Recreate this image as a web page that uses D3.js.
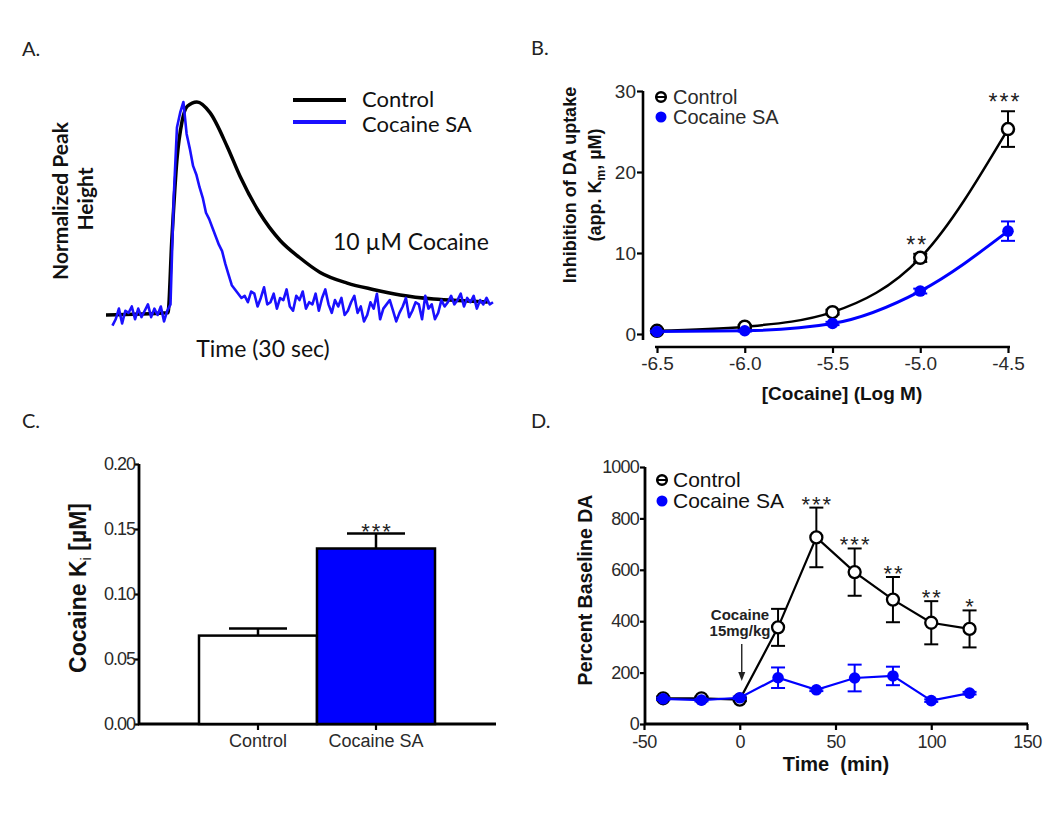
<!DOCTYPE html>
<html><head><meta charset="utf-8">
<script src="https://cdn.jsdelivr.net/npm/d3@7"></script>
<style>
html,body{margin:0;padding:0;background:#fff;}
svg{display:block;}
</style></head><body>
<svg id="chart" width="1050" height="814"></svg>
<script>
// ---------------- Panel A: normalized traces (10 µM cocaine) ----------------
const traceTimeControl = [0, 4.8, 5.1, 5.5, 5.9, 6.3, 7.05, 8.06, 9.4, 10.4, 11.9, 13.5, 15.0, 16.6, 18.7, 20.7, 22.8, 25.4, 28.0, 29.6];
const traceControl     = [0, 0.01, 0.35, 0.73, 0.91, 0.98, 1.0, 0.95, 0.79, 0.65, 0.48, 0.35, 0.27, 0.20, 0.15, 0.12, 0.094, 0.075, 0.066, 0.061];
const traceSAStart = 0.5;   // s, first sample
const traceSAStep  = 0.25;  // s, sampling interval
const traceSA = [
  -0.05, -0.02, 0.03, -0.04, 0.02, 0.01, 0.04, -0.02, 0.03, -0.01, 0.02, 0.05, -0.01, 0.03, 0.0, 0.04, -0.03, 0.02,
  0.05, 0.55, 0.88, 0.95, 1.0, 0.85, 0.78, 0.7, 0.66, 0.6, 0.55, 0.48, 0.45, 0.41, 0.37, 0.33, 0.3, 0.24, 0.19, 0.14, 0.12, 0.1, 0.08,
  0.09, 0.06, 0.11, 0.1, 0.04, 0.08, 0.13, 0.05, 0.06, 0.1, 0.03, 0.08, 0.07, 0.12, 0.04, 0.02, 0.09, 0.07, 0.11, 0.03, 0.06, 0.05, 0.1, 0.02, 0.08, 0.12, 0.05, 0.01, 0.07,
  0.04, 0.08, 0.0, 0.02, 0.06, 0.09, 0.01, 0.04, -0.03, 0.0, 0.06, 0.03, 0.1, -0.02, 0.03, 0.05, 0.07, 0.02, -0.03, 0.01, 0.04, 0.08, -0.01, 0.02, 0.06, 0.05, -0.02, 0.09, 0.03, 0.05, -0.02, 0.01, 0.07, 0.04,
  0.06, 0.09, 0.05, 0.07, 0.1, 0.04, 0.08, 0.06, 0.09, 0.03, 0.07, 0.05, 0.08, 0.05, 0.06
];
const traceSeries = ["Control", "Cocaine SA"];

// ---------------- Panel B: app. Km vs log[cocaine] ----------------
const logConc      = [-6.5, -6.0, -5.5, -5.0, -4.5];
const kmControl    = [0.4, 0.9, 2.7, 9.4, 25.3];
const kmControlErr = [0.2, 0.2, 0.3, 0.5, 2.2];
const kmSA         = [0.3, 0.4, 1.3, 5.3, 12.7];
const kmSAErr      = [0.1, 0.1, 0.2, 0.3, 1.2];
const kmSig        = ["", "", "", "**", "***"];
const kmYTicks     = [0, 10, 20, 30];

// ---------------- Panel C: cocaine Ki ----------------
const kiGroups = ["Control", "Cocaine SA"];
const kiMean   = [0.068, 0.135];
const kiErr    = [0.0055, 0.0115];
const kiSig    = ["", "***"];
const kiYTicks = [0.00, 0.05, 0.10, 0.15, 0.20];

// ---------------- Panel D: microdialysis ----------------
const timeMin      = [-40, -20, 0, 20, 40, 60, 80, 100, 120];
const daControl    = [100, 100, 95, 376, 726, 591, 484, 394, 370];
const daControlErr = [6, 6, 6, 72, 116, 92, 88, 84, 72];
const daSA         = [98, 93, 102, 180, 133, 179, 187, 91, 120];
const daSAErr      = [5, 5, 5, 40, 5, 52, 36, 5, 5];
const daSig        = ["", "", "", "", "***", "***", "**", "**", "*"];
const daXTicks     = [-50, 0, 50, 100, 150];
const daYTicks     = [0, 200, 400, 600, 800, 1000];

// =====================================================================
const BLUE = "#0000ff";
const LATO = "Lato, 'Open Sans', sans-serif";
const ARIAL = "'Liberation Sans', Arial, sans-serif";
const svg = d3.select("#chart");
svg.append("rect").attr("width", 1050).attr("height", 814).attr("fill", "#fff");

function styleAxis(g, size) {
  g.selectAll(".tick line").attr("stroke", "#000").attr("stroke-width", 2.2);
  g.selectAll(".tick text").attr("fill", "#2a2a2a")
    .style("font-family", ARIAL).style("font-size", size + "px");
}

// panel letters
[["A.", 22, 56], ["B.", 531, 55], ["C.", 22, 428], ["D.", 531, 428]].forEach(([t, x, y]) => {
  svg.append("text").attr("x", x).attr("y", y).text(t)
    .style("font-family", LATO).style("font-size", "20px").attr("fill", "#222");
});

// ---------------- Panel A ----------------
{
  const g = svg.append("g");
  const x = d3.scaleLinear().domain([0, 30]).range([106, 493]);
  const y = d3.scaleLinear().domain([0, 1]).range([315, 102]);
  const ctrlPts = traceControl.map((v, i) => [traceTimeControl[i], v]);
  const saPts = traceSA.map((v, i) => [traceSAStart + i * traceSAStep, v]);
  g.append("path").datum(ctrlPts)
    .attr("d", d3.line().x(d => x(d[0])).y(d => y(d[1])).curve(d3.curveMonotoneX))
    .attr("fill", "none").attr("stroke", "#000").attr("stroke-width", 3.5);
  g.append("path").datum(saPts)
    .attr("d", d3.line().x(d => x(d[0])).y(d => y(d[1])))
    .attr("fill", "none").attr("stroke", "#1a10ff").attr("stroke-width", 2.6).attr("stroke-linejoin", "round");

  // legend
  const leg = [[traceSeries[0], "#000", 100, 107], [traceSeries[1], "#1a10ff", 122, 132]];
  leg.forEach(([t, c, ly, ty]) => {
    g.append("line").attr("x1", 293).attr("x2", 346).attr("y1", ly).attr("y2", ly)
      .attr("stroke", c).attr("stroke-width", 4);
    g.append("text").attr("x", 362).attr("y", ty).text(t)
      .style("font-family", LATO).style("font-size", "22px").attr("fill", "#111");
  });
  g.append("text").attr("x", 333).attr("y", 250).text("10 \u00B5M Cocaine")
    .style("font-family", LATO).style("font-size", "23px").attr("fill", "#111");
  g.append("text").attr("x", 263).attr("y", 357).attr("text-anchor", "middle").text("Time (30 sec)")
    .style("font-family", LATO).style("font-size", "23px").attr("fill", "#111");
  g.append("text").attr("transform", "translate(68,201) rotate(-90)").attr("text-anchor", "middle")
    .text("Normalized Peak").style("font-family", LATO).style("font-size", "21px").style("font-weight", "bold").attr("fill", "#111");
  g.append("text").attr("transform", "translate(93,199) rotate(-90)").attr("text-anchor", "middle")
    .text("Height").style("font-family", LATO).style("font-size", "21px").style("font-weight", "bold").attr("fill", "#111");
}

// ---------------- Panel B ----------------
{
  const g = svg.append("g");
  const x = d3.scaleLinear().domain([-6.5, -4.5]).range([657, 1008]);
  const y = d3.scaleLinear().domain([0, 30]).range([334, 91]);
  const ya = g.append("g").attr("transform", "translate(643,0)")
    .call(d3.axisLeft(y).tickValues(kmYTicks).tickSize(6).tickSizeOuter(0).tickPadding(1));
  ya.select(".domain").remove();
  styleAxis(ya, 19);
  g.append("line").attr("x1", 643).attr("x2", 643).attr("y1", y(30)).attr("y2", y(0) + 6)
    .attr("stroke", "#000").attr("stroke-width", 2.6);
  const xa = g.append("g").attr("transform", "translate(0,347)")
    .call(d3.axisBottom(x).tickValues(logConc).tickFormat(d => d.toFixed(1)).tickSize(6).tickSizeOuter(0).tickPadding(4));
  xa.select(".domain").remove();
  styleAxis(xa, 19);
  g.append("line").attr("x1", x(-6.5) - 2).attr("x2", x(-4.5) + 2).attr("y1", 347).attr("y2", 347)
    .attr("stroke", "#000").attr("stroke-width", 2.6);

  const line = d3.line().x(d => x(d[0])).y(d => y(d[1])).curve(d3.curveMonotoneX);
  const series = [
    { m: kmControl, e: kmControlErr, col: "#000", open: true },
    { m: kmSA, e: kmSAErr, col: BLUE, open: false }
  ];
  series.forEach(s => {
    g.append("path").datum(s.m.map((v, i) => [logConc[i], v])).attr("d", line)
      .attr("fill", "none").attr("stroke", s.col).attr("stroke-width", s.open ? 2.5 : 3);
  });
  series.forEach(s => {
    s.m.forEach((v, i) => {
      const cx = x(logConc[i]);
      const t = y(v + s.e[i]), b = y(v - s.e[i]);
      g.append("line").attr("x1", cx).attr("x2", cx).attr("y1", t).attr("y2", b).attr("stroke", s.col).attr("stroke-width", 2);
      [t, b].forEach(yy => g.append("line").attr("x1", cx - 7).attr("x2", cx + 7).attr("y1", yy).attr("y2", yy).attr("stroke", s.col).attr("stroke-width", 2));
      if (s.open) g.append("circle").attr("cx", cx).attr("cy", y(v)).attr("r", 6)
        .attr("fill", "#fff").attr("stroke", "#000").attr("stroke-width", 2.5);
      else g.append("circle").attr("cx", cx).attr("cy", y(v)).attr("r", 5.8).attr("fill", BLUE);
    });
  });
  kmSig.forEach((s, i) => {
    if (!s) return;
    g.append("text").attr("x", x(logConc[i]) - 3).attr("y", y(kmControl[i] + kmControlErr[i]) - 1)
      .attr("text-anchor", "middle").text(s).style("font-family", ARIAL).style("font-size", "23px")
      .style("letter-spacing", "2px").attr("fill", "#222");
  });
  // legend
  g.append("circle").attr("cx", 661).attr("cy", 97).attr("r", 4.8).attr("fill", "#fff").attr("stroke", "#000").attr("stroke-width", 2.5);
  g.append("line").attr("x1", 656).attr("x2", 666).attr("y1", 97).attr("y2", 97).attr("stroke", "#000").attr("stroke-width", 2);
  g.append("circle").attr("cx", 661).attr("cy", 117).attr("r", 5.5).attr("fill", BLUE);
  g.append("text").attr("x", 673).attr("y", 104).text("Control").style("font-family", ARIAL).style("font-size", "20px").attr("fill", "#2a2a2a");
  g.append("text").attr("x", 673).attr("y", 124).text("Cocaine SA").style("font-family", ARIAL).style("font-size", "20px").attr("fill", "#2a2a2a");
  // titles
  g.append("text").attr("transform", "translate(576,185) rotate(-90)").attr("text-anchor", "middle")
    .text("Inhibition of DA uptake").style("font-family", ARIAL).style("font-size", "18px").style("font-weight", "bold").attr("fill", "#111");
  const t2 = g.append("text").attr("transform", "translate(601,185) rotate(-90)").attr("text-anchor", "middle")
    .style("font-family", ARIAL).style("font-size", "18px").style("font-weight", "bold").attr("fill", "#111");
  t2.append("tspan").text("(app. K");
  t2.append("tspan").attr("dy", 4).style("font-size", "12px").text("m");
  t2.append("tspan").attr("dy", -4).text(", \u00B5M)");
  g.append("text").attr("x", 842).attr("y", 400).attr("text-anchor", "middle").text("[Cocaine] (Log M)")
    .style("font-family", ARIAL).style("font-size", "19px").style("font-weight", "bold").attr("fill", "#111");
}

// ---------------- Panel C ----------------
{
  const g = svg.append("g");
  const x = d3.scaleBand().domain(kiGroups).range([199, 435]).padding(0);
  const y = d3.scaleLinear().domain([0, 0.2]).range([724, 464]);
  const ya = g.append("g").attr("transform", "translate(139,0)")
    .call(d3.axisLeft(y).tickValues(kiYTicks).tickFormat(d3.format(".2f")).tickSize(5).tickSizeOuter(0).tickPadding(-1));
  ya.select(".domain").remove();
  styleAxis(ya, 18);
  ya.selectAll(".tick text").style("letter-spacing", "-1px");
  g.append("line").attr("x1", 139).attr("x2", 139).attr("y1", y(0.2)).attr("y2", y(0) + 1)
    .attr("stroke", "#000").attr("stroke-width", 2.8);
  const xa = g.append("g").attr("transform", "translate(0,724)")
    .call(d3.axisBottom(x).tickSize(6).tickSizeOuter(0).tickPadding(4));
  xa.select(".domain").remove();
  styleAxis(xa, 18);
  g.append("line").attr("x1", 138).attr("x2", 496).attr("y1", 724).attr("y2", 724)
    .attr("stroke", "#000").attr("stroke-width", 2.8);

  kiGroups.forEach((k, i) => {
    const cx = x(k) + x.bandwidth() / 2;
    const top = y(kiMean[i] + kiErr[i]);
    g.append("line").attr("x1", cx).attr("x2", cx).attr("y1", y(kiMean[i])).attr("y2", top).attr("stroke", "#000").attr("stroke-width", 2.5);
    g.append("line").attr("x1", cx - 29).attr("x2", cx + 29).attr("y1", top).attr("y2", top).attr("stroke", "#000").attr("stroke-width", 2.5);
  });
  g.selectAll("rect.bar").data(kiGroups).join("rect").attr("class", "bar")
    .attr("x", d => x(d)).attr("width", x.bandwidth())
    .attr("y", (d, i) => y(kiMean[i])).attr("height", (d, i) => y(0) - y(kiMean[i]))
    .attr("fill", (d, i) => i === 0 ? "#fff" : BLUE).attr("stroke", "#000").attr("stroke-width", 2.5);
  kiSig.forEach((s, i) => {
    if (!s) return;
    g.append("text").attr("x", x(kiGroups[i]) + x.bandwidth() / 2 + 1).attr("y", y(kiMean[i] + kiErr[i]) + 5)
      .attr("text-anchor", "middle").text(s).style("font-family", ARIAL).style("font-size", "22px")
      .style("letter-spacing", "2px").attr("fill", "#222");
  });
  const tt = g.append("text").attr("transform", "translate(86,588) rotate(-90)").attr("text-anchor", "middle")
    .style("font-family", ARIAL).style("font-size", "23px").style("font-weight", "bold").attr("fill", "#111");
  tt.append("tspan").text("Cocaine K");
  tt.append("tspan").attr("dy", 5).style("font-size", "15px").style("font-weight", "normal").text("i");
  tt.append("tspan").attr("dy", -5).text(" [\u00B5M]");
}

// ---------------- Panel D ----------------
{
  const g = svg.append("g");
  const x = d3.scaleLinear().domain([-50, 150]).range([644, 1027]);
  const y = d3.scaleLinear().domain([0, 1000]).range([724, 467]);
  const ya = g.append("g").attr("transform", "translate(645,0)")
    .call(d3.axisLeft(y).tickValues(daYTicks).tickFormat(d => String(d)).tickSize(5).tickSizeOuter(0).tickPadding(1));
  ya.select(".domain").remove();
  styleAxis(ya, 18);
  ya.selectAll(".tick text").style("letter-spacing", "-0.8px");
  g.append("line").attr("x1", 645).attr("x2", 645).attr("y1", y(1000)).attr("y2", y(0) + 1)
    .attr("stroke", "#000").attr("stroke-width", 2.8);
  const xa = g.append("g").attr("transform", "translate(0,724)")
    .call(d3.axisBottom(x).tickValues(daXTicks).tickFormat(d => String(d)).tickSize(6).tickSizeOuter(0).tickPadding(5));
  xa.select(".domain").remove();
  styleAxis(xa, 18);
  xa.selectAll(".tick text").style("letter-spacing", "-0.5px");
  g.append("line").attr("x1", 644).attr("x2", x(150) + 1).attr("y1", 724).attr("y2", 724)
    .attr("stroke", "#000").attr("stroke-width", 2.8);

  const line = d3.line().x(d => x(d[0])).y(d => y(d[1]));
  const series = [
    { m: daControl, e: daControlErr, col: "#000", open: true },
    { m: daSA, e: daSAErr, col: BLUE, open: false }
  ];
  series.forEach(s => {
    g.append("path").datum(s.m.map((v, i) => [timeMin[i], v])).attr("d", line)
      .attr("fill", "none").attr("stroke", s.col).attr("stroke-width", 2.2);
    s.m.forEach((v, i) => {
      const cx = x(timeMin[i]);
      const t = y(v + s.e[i]), b = y(v - s.e[i]);
      g.append("line").attr("x1", cx).attr("x2", cx).attr("y1", t).attr("y2", b).attr("stroke", s.col).attr("stroke-width", 2);
      [t, b].forEach(yy => g.append("line").attr("x1", cx - 7).attr("x2", cx + 7).attr("y1", yy).attr("y2", yy).attr("stroke", s.col).attr("stroke-width", 2));
    });
    s.m.forEach((v, i) => {
      const cx = x(timeMin[i]);
      if (s.open) g.append("circle").attr("cx", cx).attr("cy", y(v)).attr("r", 6)
        .attr("fill", "#fff").attr("stroke", "#000").attr("stroke-width", 2.3);
      else g.append("circle").attr("cx", cx).attr("cy", y(v)).attr("r", 5.8).attr("fill", BLUE);
    });
  });
  daSig.forEach((s, i) => {
    if (!s) return;
    g.append("text").attr("x", x(timeMin[i]) + 1).attr("y", y(daControl[i] + daControlErr[i]) + 4)
      .attr("text-anchor", "middle").text(s).style("font-family", ARIAL).style("font-size", "22px")
      .style("letter-spacing", "2px").attr("fill", "#222");
  });
  // legend
  g.append("circle").attr("cx", 662).attr("cy", 480).attr("r", 4.8).attr("fill", "#fff").attr("stroke", "#000").attr("stroke-width", 2.5);
  g.append("line").attr("x1", 657).attr("x2", 667).attr("y1", 480).attr("y2", 480).attr("stroke", "#000").attr("stroke-width", 2);
  g.append("circle").attr("cx", 662).attr("cy", 501).attr("r", 5.5).attr("fill", BLUE);
  g.append("text").attr("x", 673).attr("y", 487).text("Control").style("font-family", ARIAL).style("font-size", "21px").attr("fill", "#111");
  g.append("text").attr("x", 673).attr("y", 508).text("Cocaine SA").style("font-family", ARIAL).style("font-size", "21px").attr("fill", "#111");
  // injection annotation
  g.append("text").attr("x", 740).attr("y", 620).attr("text-anchor", "middle").text("Cocaine")
    .style("font-family", ARIAL).style("font-size", "15px").style("font-weight", "bold").attr("fill", "#222");
  g.append("text").attr("x", 740).attr("y", 636).attr("text-anchor", "middle").text("15mg/kg")
    .style("font-family", ARIAL).style("font-size", "15px").style("font-weight", "bold").attr("fill", "#222");
  const ax = x(0) + 2;
  g.append("line").attr("x1", ax).attr("x2", ax).attr("y1", 644).attr("y2", 674).attr("stroke", "#222").attr("stroke-width", 1.4);
  g.append("path").attr("d", `M${ax - 3.5},672 L${ax + 3.5},672 L${ax},681 Z`).attr("fill", "#222");
  // titles
  g.append("text").attr("transform", "translate(592,590) rotate(-90)").attr("text-anchor", "middle")
    .text("Percent Baseline DA").style("font-family", ARIAL).style("font-size", "19.5px").style("font-weight", "bold").attr("fill", "#111");
  g.append("text").attr("x", 836).attr("y", 771).attr("text-anchor", "middle").attr("xml:space", "preserve")
    .style("white-space", "pre").text("Time  (min)")
    .style("font-family", ARIAL).style("font-size", "20px").style("font-weight", "bold").attr("fill", "#111");
}
</script>
</body></html>
